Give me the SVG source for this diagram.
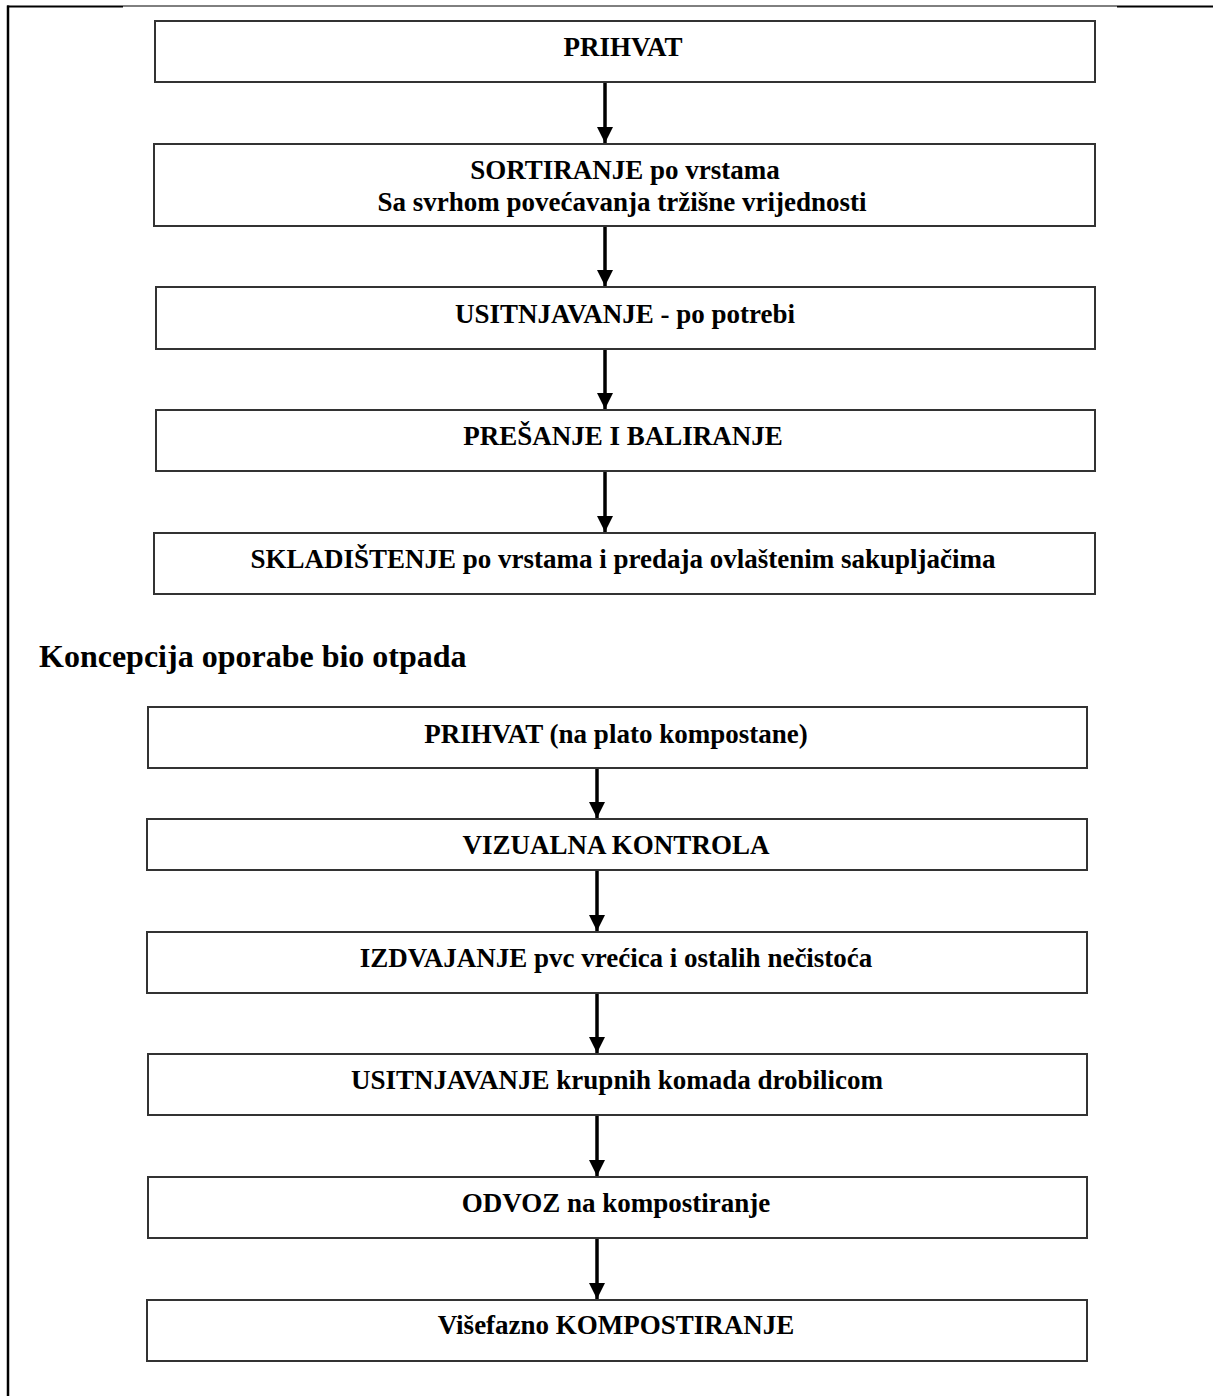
<svg xmlns="http://www.w3.org/2000/svg" width="1213" height="1396" viewBox="0 0 1213 1396">
<style>
.box{fill:#fff;stroke:#333;stroke-width:2}
.t{font-family:"Liberation Serif","Times New Roman",serif;font-weight:bold;font-size:27px;fill:#000;text-anchor:middle}
.h{font-family:"Liberation Serif","Times New Roman",serif;font-weight:bold;font-size:32px;fill:#000}
.c{stroke:#000;stroke-width:3.5;fill:none}
</style>
<defs>
<marker id="ah" markerUnits="userSpaceOnUse" markerWidth="18" markerHeight="18" refX="16" refY="8" orient="auto">
<path d="M0,0 L16,8 L0,16 Z" fill="#000"/>
</marker>
</defs>
<rect width="1213" height="1396" fill="#fff"/>
<g id="page-border">
<line x1="7" y1="6.5" x2="123" y2="6.5" stroke="#000" stroke-width="2"/>
<line x1="123" y1="6" x2="1117" y2="6" stroke="#000" stroke-width="1"/>
<line x1="1117" y1="6.5" x2="1213" y2="6.5" stroke="#000" stroke-width="2"/>
<line x1="8" y1="5.5" x2="8" y2="1396" stroke="#000" stroke-width="2.5"/>
</g>
<g id="connectors">
<line class="c" x1="605" y1="82" x2="605" y2="143" marker-end="url(#ah)"/>
<line class="c" x1="605" y1="226" x2="605" y2="286" marker-end="url(#ah)"/>
<line class="c" x1="605" y1="349" x2="605" y2="409" marker-end="url(#ah)"/>
<line class="c" x1="605" y1="471" x2="605" y2="532" marker-end="url(#ah)"/>
<line class="c" x1="597" y1="768" x2="597" y2="818" marker-end="url(#ah)"/>
<line class="c" x1="597" y1="870" x2="597" y2="931" marker-end="url(#ah)"/>
<line class="c" x1="597" y1="993" x2="597" y2="1053" marker-end="url(#ah)"/>
<line class="c" x1="597" y1="1115" x2="597" y2="1176" marker-end="url(#ah)"/>
<line class="c" x1="597" y1="1238" x2="597" y2="1299" marker-end="url(#ah)"/>
</g>
<g id="n1"><rect class="box" x="155" y="21" width="940" height="61"/><text class="t" x="623" y="56">PRIHVAT</text></g>
<g id="n2"><rect class="box" x="154" y="144" width="941" height="82"/><text class="t" x="625" y="179">SORTIRANJE po vrstama</text><text class="t" x="622" y="211">Sa svrhom povećavanja tržišne vrijednosti</text></g>
<g id="n3"><rect class="box" x="156" y="287" width="939" height="62"/><text class="t" x="625" y="323">USITNJAVANJE - po potrebi</text></g>
<g id="n4"><rect class="box" x="156" y="410" width="939" height="61"/><text class="t" x="623" y="445">PREŠANJE I BALIRANJE</text></g>
<g id="n5"><rect class="box" x="154" y="533" width="941" height="61"/><text class="t" x="623" y="568">SKLADIŠTENJE po vrstama i predaja ovlaštenim sakupljačima</text></g>
<g id="heading"><text class="h" x="39" y="667">Koncepcija oporabe bio otpada</text></g>
<g id="m1"><rect class="box" x="148" y="707" width="939" height="61"/><text class="t" x="616" y="743">PRIHVAT (na plato kompostane)</text></g>
<g id="m2"><rect class="box" x="147" y="819" width="940" height="51"/><text class="t" x="616" y="854">VIZUALNA KONTROLA</text></g>
<g id="m3"><rect class="box" x="147" y="932" width="940" height="61"/><text class="t" x="616" y="967">IZDVAJANJE pvc vrećica i ostalih nečistoća</text></g>
<g id="m4"><rect class="box" x="148" y="1054" width="939" height="61"/><text class="t" x="617" y="1089">USITNJAVANJE krupnih komada drobilicom</text></g>
<g id="m5"><rect class="box" x="148" y="1177" width="939" height="61"/><text class="t" x="616" y="1212">ODVOZ na kompostiranje</text></g>
<g id="m6"><rect class="box" x="147" y="1300" width="940" height="61"/><text class="t" x="616" y="1334">Višefazno KOMPOSTIRANJE</text></g>
</svg>
